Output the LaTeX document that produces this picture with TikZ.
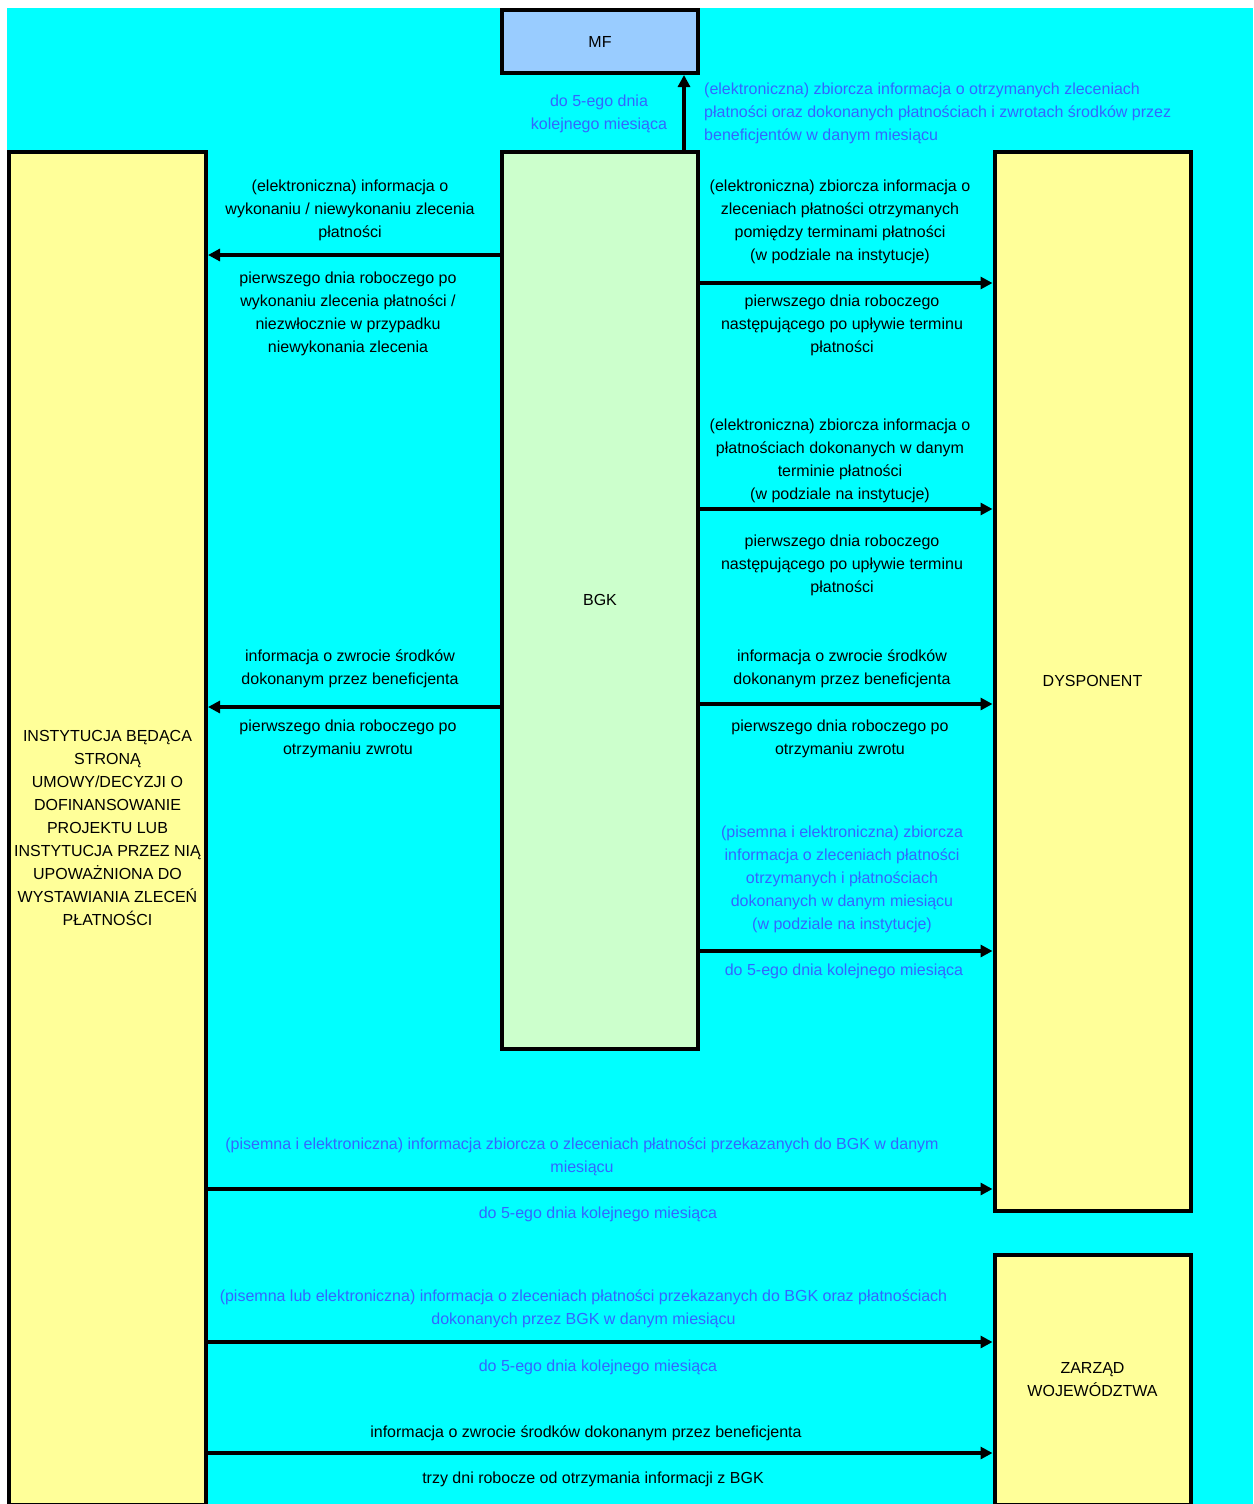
\documentclass[tikz,border=0pt]{standalone}
\usepackage{fontspec}
\setmainfont{Liberation Sans}
\usetikzlibrary{arrows.meta}
\definecolor{bgcyan}{HTML}{00FFFF}
\definecolor{boxyellow}{HTML}{FFFF99}
\definecolor{boxgreen}{HTML}{CCFFCC}
\definecolor{boxblue}{HTML}{99CCFF}
\definecolor{txtblue}{HTML}{3366FF}
\tikzset{unit/.style = {draw, line width = 4pt, inner sep = 0, minimum width = 196, align = center},
  lbl/.style = {inner sep = 0, align = center, yshift = -2pt},
  blu/.style = {lbl, text = txtblue},
  arr/.style = {line width = 4pt, -{Triangle[length = 12pt, width = 12pt]}}}

\begin{document}
\begin{tikzpicture}[x=1pt, y=-1pt, font=\fontsize{16}{23}\selectfont]
    \useasboundingbox (0, 0) rectangle (1253, 1504);
    \fill [white] (0, 0) rectangle (1253, 1504);
    \fill [bgcyan] (7, 8) rectangle (1253, 1504);
    \node (mf) at (600, 41.5) [unit, fill = boxblue, minimum height = 63] {MF};
    \node (bgk) at (600, 600.25) [unit, fill = boxgreen, minimum height = 897.5] {BGK};
    \node (inst) at (107.5, 828.25) [unit, fill = boxyellow, minimum width = 197, minimum height = 1353.5]
      {INSTYTUCJA BĘDĄCA\\STRONĄ\\UMOWY/DECYZJI O\\DOFINANSOWANIE\\PROJEKTU LUB\\INSTYTUCJA PRZEZ NIĄ\\UPOWAŻNIONA DO\\WYSTAWIANIA ZLECEŃ\\PŁATNOŚCI};
    \node (dysp) at (1092.5, 681) [unit, fill = boxyellow, minimum height = 1059] {DYSPONENT};
    \node (zw) at (1092.5, 1380) [unit, fill = boxyellow, minimum height = 250] {ZARZĄD\\WOJEWÓDZTWA};
    \draw [arr] (bgk.north -| 684, 0) -- (mf.south -| 684, 0);
    \node (mfterm) at (599, 111.5) [blu] {do 5-ego dnia\\kolejnego miesiąca};
    \node (mfinfo) at (704, 111) [blu, anchor = west, align = left]
      {(elektroniczna) zbiorcza informacja o otrzymanych zleceniach\\płatności oraz dokonanych płatnościach i zwrotach środków przez\\beneficjentów w danym miesiącu};
    \draw [arr] (bgk.west |- 0, 255) -- (inst.east |- 0, 255);
    \node (wyk) at (350, 208) [lbl] {(elektroniczna) informacja o\\wykonaniu / niewykonaniu zlecenia\\płatności};
    \node (wykterm) at (348, 311.5) [lbl] {pierwszego dnia roboczego po\\wykonaniu zlecenia płatności /\\niezwłocznie w przypadku\\niewykonania zlecenia};
    \draw [arr] (bgk.east |- 0, 283) -- (dysp.west |- 0, 283);
    \node (zlec) at (840, 219.5) [lbl] {(elektroniczna) zbiorcza informacja o\\zleceniach płatności otrzymanych\\pomiędzy terminami płatności\\(w podziale na instytucje)};
    \node (zlecterm) at (842, 323) [lbl] {pierwszego dnia roboczego\\następującego po upływie terminu\\płatności};
    \draw [arr] (bgk.east |- 0, 509) -- (dysp.west |- 0, 509);
    \node (plat) at (840, 459) [lbl] {(elektroniczna) zbiorcza informacja o\\płatnościach dokonanych w danym\\terminie płatności\\(w podziale na instytucje)};
    \node (platterm) at (842, 563) [lbl] {pierwszego dnia roboczego\\następującego po upływie terminu\\płatności};
    \draw [arr] (bgk.west |- 0, 707) -- (inst.east |- 0, 707);
    \node (zwrl) at (350, 666.5) [lbl] {informacja o zwrocie środków\\dokonanym przez beneficjenta};
    \node (zwrlterm) at (348, 736.5) [lbl] {pierwszego dnia roboczego po\\otrzymaniu zwrotu};
    \draw [arr] (bgk.east |- 0, 704) -- (dysp.west |- 0, 704);
    \node (zwrr) at (842, 666.5) [lbl] {informacja o zwrocie środków\\dokonanym przez beneficjenta};
    \node (zwrrterm) at (840, 736.5) [lbl] {pierwszego dnia roboczego po\\otrzymaniu zwrotu};
    \draw [arr] (bgk.east |- 0, 951) -- (dysp.west |- 0, 951);
    \node (mies) at (842, 877) [blu] {(pisemna i elektroniczna) zbiorcza\\informacja o zleceniach płatności\\otrzymanych i płatnościach\\dokonanych w danym miesiącu\\(w podziale na instytucje)};
    \node (miesterm) at (844, 969) [blu] {do 5-ego dnia kolejnego miesiąca};
    \draw [arr] (inst.east |- 0, 1189) -- (dysp.west |- 0, 1189);
    \node (instd) at (582, 1154.5) [blu] {(pisemna i elektroniczna) informacja zbiorcza o zleceniach płatności przekazanych do BGK w danym\\miesiącu};
    \node (instdterm) at (598, 1212) [blu] {do 5-ego dnia kolejnego miesiąca};
    \draw [arr] (inst.east |- 0, 1342) -- (zw.west |- 0, 1342);
    \node (instz) at (583.5, 1306.5) [blu] {(pisemna lub elektroniczna) informacja o zleceniach płatności przekazanych do BGK oraz płatnościach\\dokonanych przez BGK w danym miesiącu};
    \node (instzterm) at (598, 1365) [blu] {do 5-ego dnia kolejnego miesiąca};
    \draw [arr] (inst.east |- 0, 1453) -- (zw.west |- 0, 1453);
    \node (zwrz) at (586, 1431) [lbl] {informacja o zwrocie środków dokonanym przez beneficjenta};
    \node (zwrzterm) at (593, 1477) [lbl] {trzy dni robocze od otrzymania informacji z BGK};
  \end{tikzpicture}
\end{document}
